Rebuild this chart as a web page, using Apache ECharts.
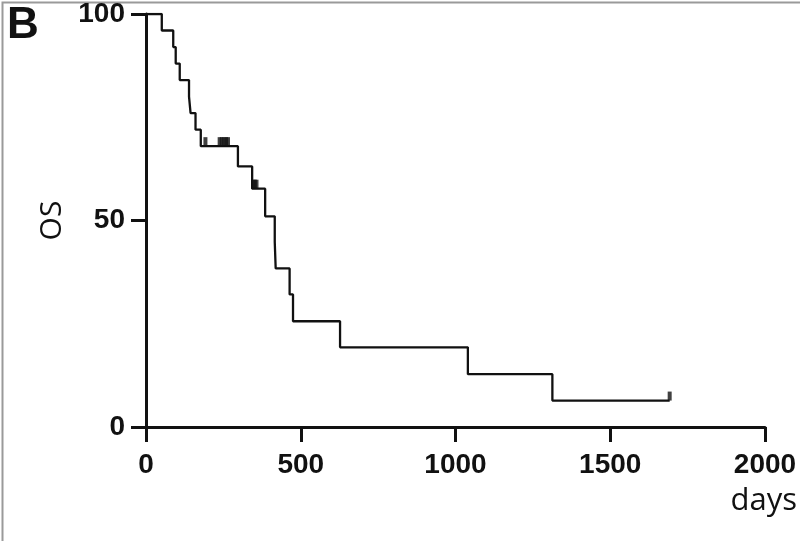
<!DOCTYPE html>
<html>
<head>
<meta charset="utf-8">
<script src="https://cdn.jsdelivr.net/npm/echarts@6/dist/echarts.min.js"></script>
<style>
html,body{margin:0;padding:0;background:#fff;}
#chart{width:800px;height:541px;}
</style>
</head>
<body>
<div id="chart"></div>
<script>
// Kaplan-Meier overall survival steps (day of event, survival % after event)
const eventDays = [0, 51, 88, 96, 109, 139, 144, 160, 177, 297, 343, 385, 416, 419, 464, 475, 627, 1040, 1313, 1692];
const survival  = [100, 96, 92, 88, 84, 80, 76, 72, 68, 63.1, 57.7, 51.0, 44.8, 38.4, 32.1, 25.6, 19.3, 12.8, 6.4, 6.4];
// censored observations
const censorDays  = [192, 238, 245, 252, 259, 265, 347, 352, 357, 1692];
const censorSurv  = [68, 68, 68, 68, 68, 68, 57.7, 57.7, 57.7, 6.4];
const xTicks = [0, 500, 1000, 1500, 2000];
const yTicks = [0, 50, 100];

const chart = echarts.init(document.getElementById('chart'));
const labelFont = {fontFamily: 'Liberation Sans, Arial, sans-serif', fontWeight: 'bold', fontSize: 28, color: '#111'};
chart.setOption({
  animation: false,
  backgroundColor: '#fff',
  grid: {left: 146, right: 35, top: 13, bottom: 114, containLabel: false},
  xAxis: {
    type: 'value', min: xTicks[0], max: xTicks[xTicks.length - 1], interval: 500,
    axisLine: {show: true, lineStyle: {color: '#111', width: 3}},
    axisTick: {show: true, length: 15, lineStyle: {color: '#111', width: 3}},
    axisLabel: Object.assign({margin: 24, formatter: v => String(v)}, labelFont),
    splitLine: {show: false}
  },
  yAxis: {
    type: 'value', min: yTicks[0], max: yTicks[yTicks.length - 1], interval: 50,
    name: 'OS', nameLocation: 'middle', nameGap: 72, nameRotate: 90,
    nameTextStyle: {fontFamily: 'Open Sans, Lato, sans-serif', fontSize: 30, color: '#111'},
    axisLine: {show: true, lineStyle: {color: '#111', width: 3}},
    axisTick: {show: true, length: 15, lineStyle: {color: '#111', width: 3}},
    axisLabel: Object.assign({margin: 21, formatter: v => String(v)}, labelFont),
    splitLine: {show: false}
  },
  series: [
    {
      type: 'line', step: 'end', symbol: 'none',
      lineStyle: {color: '#111', width: 2.3},
      data: eventDays.map((d, i) => [d, survival[i]]),
      z: 3
    },
    {
      type: 'scatter', symbol: 'rect', symbolSize: [4, 9], symbolOffset: [0, -4.5],
      itemStyle: {color: '#111'},
      data: censorDays.map((d, i) => [d, censorSurv[i]]),
      z: 4
    }
  ],
  graphic: [
    {type: 'rect', left: 0, top: 0, shape: {x: 0, y: 0, width: 799, height: 540},
     style: {fill: 'none', stroke: '#9a9a9a', lineWidth: 2}, silent: true},
    {type: 'text', left: 7, top: 4,
     style: {text: 'B', font: 'bold 44px Liberation Sans, Arial, sans-serif', fill: '#111'}},
    {type: 'text', x: 797, y: 501,
     style: {text: 'days', font: '31px Open Sans, Lato, sans-serif', fill: '#111', textAlign: 'right', textVerticalAlign: 'middle'}}
  ]
});
</script>
</body>
</html>
